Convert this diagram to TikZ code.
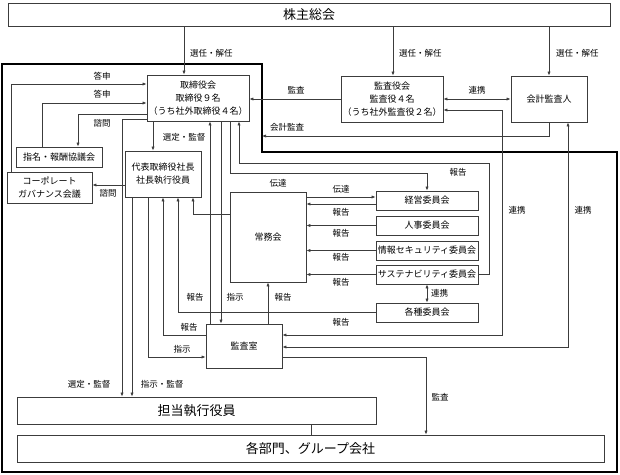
\documentclass[tikz,border=0pt]{standalone}
\usepackage{fontspec}
\newfontfamily\jp{Noto Sans CJK JP}
\usetikzlibrary{arrows.meta}
\definecolor{lc}{RGB}{60,60,60}
\tikzset{
  box/.style={draw=lc, line width=0.8pt, inner sep=0pt, align=center, font=\jp\fontsize{9}{13}\selectfont},
  bigbox/.style={box, font=\jp\fontsize{13}{15}\selectfont},
  lbl/.style={inner sep=0pt, font=\jp\fontsize{8.5}{10}\selectfont},
  conn/.style={draw=lc, line width=0.7pt},
  arr/.style={conn, -{Latex[length=4pt,width=3.2pt]}},
  darr/.style={conn, {Latex[length=4pt,width=3.2pt]}-{Latex[length=4pt,width=3.2pt]}},
  frame/.style={draw=black, line width=1.8pt}
}
\begin{document}
\begin{tikzpicture}[x=1pt,y=-1pt]
\useasboundingbox (0,0) rectangle (620,474);
\fill[white] (0,0) rectangle (620,474);

% thick frame
\draw[frame] (2,64) -- (262,64) -- (262,152) -- (617,152) -- (617,472) -- (2,472) -- cycle;
\coordinate (fc) at (262,136);

% boxes
\node[bigbox, minimum width=602pt, minimum height=23pt] (kabu) at (309,14.5) {株主総会};
\node[box, minimum width=102pt, minimum height=46pt] (tori) at (198,98) {取締役会\\取締役９名\\（うち社外取締役４名）};
\node[box, minimum width=102pt, minimum height=46pt] (kansayaku) at (392,99) {監査役会\\監査役４名\\（うち社外監査役２名）};
\node[box, minimum width=76pt, minimum height=46pt] (kaikei) at (549,99) {会計監査人};
\node[box, minimum width=86pt, minimum height=20pt] (shimei) at (59,157) {指名・報酬協議会};
\node[box, minimum width=85pt, minimum height=31pt] (cg) at (49.5,187.5) {コーポレート\\ガバナンス会議};
\node[box, minimum width=76pt, minimum height=46pt] (daihyo) at (163,174) {代表取締役社長\\社長執行役員};
\node[box, minimum width=76pt, minimum height=90pt] (jomu) at (268,237) {常務会};
\node[box, minimum width=102pt, minimum height=19pt] (keiei) at (427,200.5) {経営委員会};
\node[box, minimum width=102pt, minimum height=19pt] (jinji) at (427,225.5) {人事委員会};
\node[box, minimum width=102pt, minimum height=19pt] (joho) at (427,250.5) {情報セキュリティ委員会};
\node[box, minimum width=102pt, minimum height=19pt] (sus) at (427,274.5) {サステナビリティ委員会};
\node[box, minimum width=102pt, minimum height=19pt] (kakushu) at (427,312.5) {各種委員会};
\node[box, minimum width=76pt, minimum height=44pt] (kansashitsu) at (244,346) {監査室};
\node[bigbox, minimum width=359pt, minimum height=27pt] (tanto) at (196.5,410.5) {担当執行役員};
\node[bigbox, minimum width=587pt, minimum height=27pt] (kakubu) at (310.5,448.5) {各部門、グループ会社};

% helper coordinates
\coordinate (cA) at (184,0);
\coordinate (cB) at (393,0);
\coordinate (cC) at (549,0);
\coordinate (b1) at (11,84);
\coordinate (b2) at (42,103);
\coordinate (b3) at (78,114);
\coordinate (b4) at (153,0);
\coordinate (b5) at (0,185);
\coordinate (b6) at (122,119);
\coordinate (b7) at (132,0);
\coordinate (b8) at (148,357);
\coordinate (b9) at (163,335);
\coordinate (b10) at (178,0);
\coordinate (b11) at (210,0);
\coordinate (b12) at (221,0);
\coordinate (b13) at (268,0);
\coordinate (b14) at (193,214);
\coordinate (b15) at (230,173);
\coordinate (b16) at (427,173);
\coordinate (b17) at (489,163);
\coordinate (b18) at (239,163);
\coordinate (b19) at (0,197);
\coordinate (b20) at (0,204);
\coordinate (b21) at (502,335);
\coordinate (b22) at (502,110);
\coordinate (b23) at (568,347);
\coordinate (b24) at (426,357);
\coordinate (b25) at (311,0);

% connectors
\draw[arr] (kabu.south -| cA) -- (tori.north -| cA);
\draw[arr] (kabu.south -| cB) -- (kansayaku.north -| cB);
\draw[arr] (kabu.south -| cC) -- (kaikei.north -| cC);
\draw[arr] (kansayaku.west) -- (tori.east |- kansayaku.west);
\draw[darr] (kansayaku.east) -- (kaikei.west);
\draw[arr] (kaikei.south -| cC) |- (fc);
\draw[arr] (cg.north -| b1) -- (b1) -- (tori.west |- b1);
\draw[arr] (shimei.north -| b2) -- (b2) -- (tori.west |- b2);
\draw[arr] (tori.west |- b3) -- (b3) -- (shimei.north -| b3);
\draw[arr] (tori.south -| b4) -- (daihyo.north -| b4);
\draw[arr] (daihyo.west |- b5) -- (cg.east |- b5);
\draw[arr] (tori.west |- b6) -- (b6) -- (tanto.north -| b6);
\draw[arr] (daihyo.south -| b7) -- (tanto.north -| b7);
\draw[arr] (daihyo.south -| b8) -- (b8) -- (kansashitsu.west |- b8);
\draw[arr] (kansashitsu.west |- b9) -- (b9) -- (daihyo.south -| b9);
\draw[arr] (kakushu.west) -- (kakushu.west -| b10) -- (daihyo.south -| b10);
\draw[arr] (kansashitsu.north -| b11) -- (tori.south -| b11);
\draw[arr] (tori.south -| b12) -- (kansashitsu.north -| b12);
\draw[arr] (kansashitsu.north -| b13) -- (jomu.south -| b13);
\draw[arr] (jomu.west |- b14) -- (b14) -- (daihyo.south -| b14);
\draw[arr] (tori.south -| b15) -- (b15) -- (b16) -- (keiei.north -| b16);
\draw[arr] (sus.east) -- (sus.east -| b17) -- (b17) -- (b18) -- (tori.south -| b18);
\draw[arr] (jomu.east |- b19) -- (keiei.west |- b19);
\draw[arr] (keiei.west |- b20) -- (jomu.east |- b20);
\draw[arr] (jinji.west) -- (jomu.east |- jinji.west);
\draw[arr] (joho.west) -- (jomu.east |- joho.west);
\draw[arr] (sus.west) -- (jomu.east |- sus.west);
\draw[darr] (sus.south -| b16) -- (kakushu.north -| b16);
\draw[darr] (kansashitsu.east |- b21) -- (b21) -- (b22) -- (kansayaku.east |- b22);
\draw[darr] (kansashitsu.east |- b23) -- (b23) -- (kaikei.south -| b23);
\draw[arr] (kansashitsu.east |- b24) -- (b24) -- (kakubu.north -| b24);
\draw[conn] (tanto.south -| b25) -- (kakubu.north -| b25);

% labels
\node[lbl, anchor=west] (l1) at (190,53) {選任・解任};
\node[lbl, anchor=west] (l2) at (399,53) {選任・解任};
\node[lbl, anchor=west] (l3) at (556,53) {選任・解任};
\node[lbl] (l4) at (296,90) {監査};
\node[lbl] (l5) at (477,90) {連携};
\node[lbl] (l6) at (287,127) {会計監査};
\node[lbl] (l7) at (102,76) {答申};
\node[lbl] (l8) at (102,94) {答申};
\node[lbl] (l9) at (102,123) {諮問};
\node[lbl] (l10) at (184,137) {選定・監督};
\node[lbl] (l11) at (108,193) {諮問};
\node[lbl] (l12) at (89,384) {選定・監督};
\node[lbl] (l13) at (162,384) {指示・監督};
\node[lbl] (l14) at (182,349) {指示};
\node[lbl] (l15) at (189,327) {報告};
\node[lbl] (l16) at (195,297) {報告};
\node[lbl] (l17) at (235,297) {指示};
\node[lbl] (l18) at (283,297) {報告};
\node[lbl] (l19) at (278,183) {伝達};
\node[lbl] (l20) at (458,172) {報告};
\node[lbl] (l21) at (341,189) {伝達};
\node[lbl] (l22) at (341,212) {報告};
\node[lbl] (l23) at (341,233) {報告};
\node[lbl] (l24) at (341,257) {報告};
\node[lbl] (l25) at (341,282) {報告};
\node[lbl] (l26) at (341,322) {報告};
\node[lbl, anchor=west] (l27) at (431,293) {連携};
\node[lbl] (l28) at (517,210) {連携};
\node[lbl] (l29) at (583,210) {連携};
\node[lbl] (l30) at (440,397) {監査};
\end{tikzpicture}
\end{document}
